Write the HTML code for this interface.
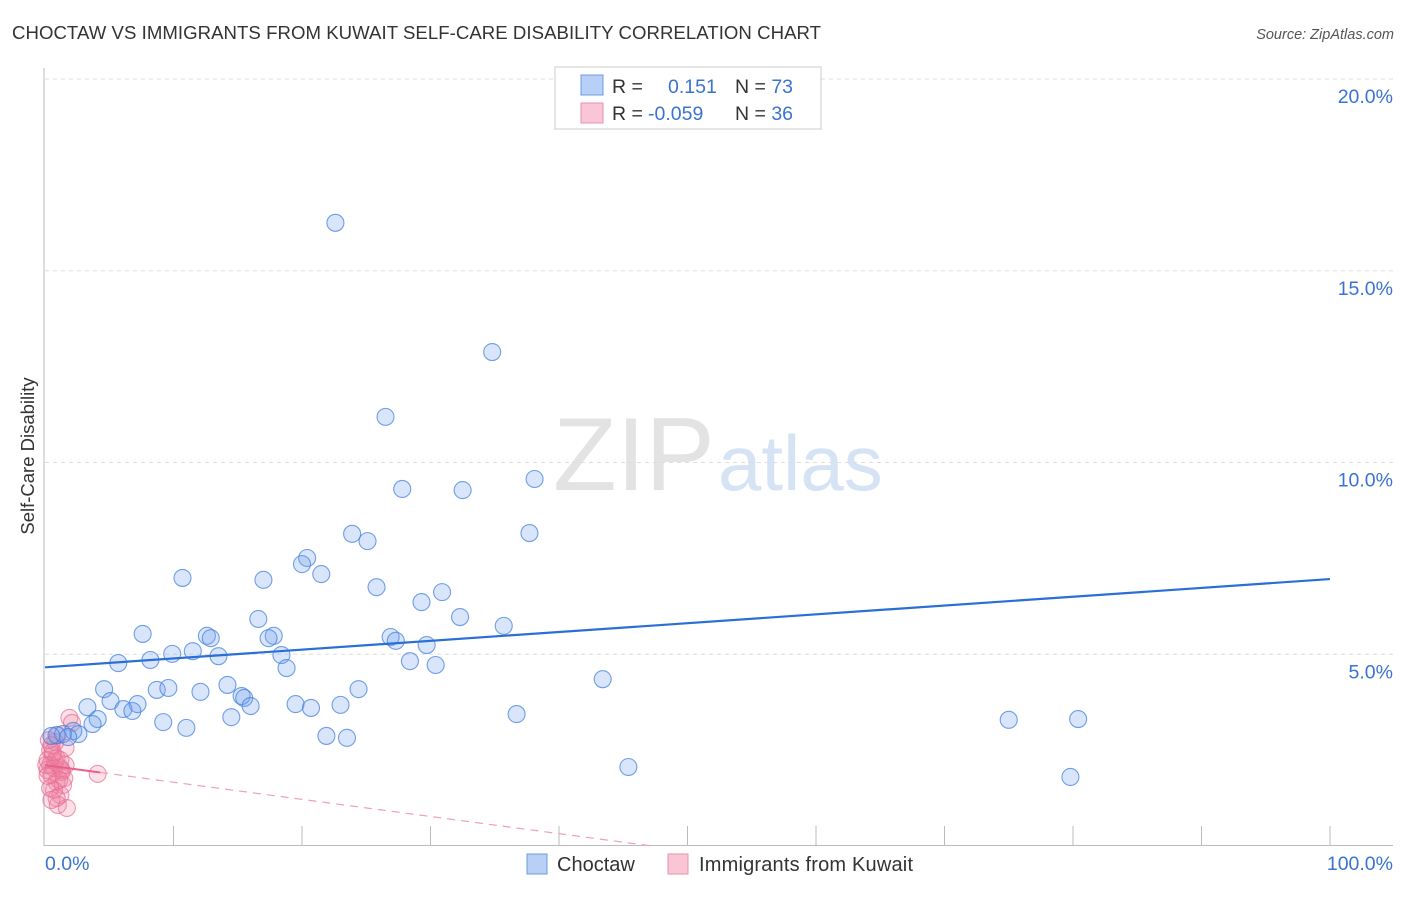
<!DOCTYPE html>
<html><head><meta charset="utf-8"><style>
body{margin:0;background:#fff;font-family:"Liberation Sans",sans-serif}
svg text{font-family:"Liberation Sans",sans-serif}
</style></head><body>
<svg id="c" width="1406" height="892" xmlns="http://www.w3.org/2000/svg">
<text x="12" y="39" font-size="18.6" fill="#333" textLength="809">CHOCTAW VS IMMIGRANTS FROM KUWAIT SELF-CARE DISABILITY CORRELATION CHART</text>
<text x="1394" y="39" font-size="14.5" fill="#555" text-anchor="end" font-style="italic">Source: ZipAtlas.com</text>
<text transform="translate(34,456) rotate(-90)" font-size="18.5" fill="#333" text-anchor="middle">Self-Care Disability</text>
<g>
<text x="553" y="490" font-size="104" fill="#e3e3e3" font-family="Liberation Serif">ZIP</text>
<text x="718" y="490" font-size="78" fill="#d5e3f5">atlas</text>
</g>
<g id="grid"></g><g id="axes"></g><g id="marks"></g>
<g>
<rect x="555" y="67" width="266" height="62" fill="#fff" stroke="#ccc"/>
<rect x="581" y="75" width="22" height="20" fill="#b8d0f5" stroke="#6a9be0"/>
<rect x="581" y="103" width="22" height="20" fill="#f9c6d5" stroke="#ea8faf"/>
<text x="612" y="93" font-size="19.5" fill="#333">R =<tspan x="668" fill="#3a73d0">0.151</tspan><tspan x="735" fill="#333">N = </tspan><tspan fill="#3a73d0">73</tspan></text>
<text x="612" y="120" font-size="19.5" fill="#333">R =<tspan x="648" fill="#3a73d0">-0.059</tspan><tspan x="735" fill="#333">N = </tspan><tspan fill="#3a73d0">36</tspan></text>
</g>
<g>
<rect x="527" y="854" width="20" height="20" fill="#b8d0f5" stroke="#6a9be0"/>
<text x="557" y="871" font-size="20" fill="#333">Choctaw</text>
<rect x="668" y="854" width="20" height="20" fill="#f9c6d5" stroke="#ea8faf"/>
<text x="699" y="871" font-size="20" fill="#333" textLength="214">Immigrants from Kuwait</text>
</g>
</svg>
<script>
const blueX=[22.6,34.8,26.5,27.8,32.5,38.1,37.7,23.9,25.1,20.4,20.0,21.5,10.7,17.0,25.8,30.9,29.3,32.3,16.6,35.7,7.6,12.6,12.9,17.8,17.4,26.9,27.3,29.7,11.5,9.9,13.5,18.4,8.2,5.7,28.4,18.8,30.4,43.4,4.6,8.7,9.6,14.2,24.4,12.1,15.3,15.5,5.1,7.2,3.3,6.1,6.8,16.0,19.5,20.7,23.0,14.5,36.7,4.1,3.7,9.2,11.0,75.0,80.4,21.9,23.5,2.2,2.6,0.9,1.4,0.5,45.4,79.8,1.8];
const blueY=[16.25,12.88,11.19,9.31,9.28,9.57,8.16,8.14,7.95,7.51,7.35,7.09,6.99,6.94,6.75,6.62,6.36,5.97,5.92,5.74,5.53,5.48,5.42,5.48,5.42,5.45,5.35,5.24,5.08,5.01,4.95,4.98,4.85,4.77,4.82,4.64,4.72,4.35,4.09,4.07,4.12,4.20,4.09,4.02,3.91,3.86,3.78,3.70,3.62,3.57,3.52,3.65,3.70,3.60,3.68,3.36,3.44,3.31,3.18,3.23,3.08,3.29,3.31,2.87,2.82,3.00,2.92,2.89,2.92,2.87,2.06,1.80,2.84];
const pinkX=[1.9,2.1,1.0,0.8,1.6,0.4,0.6,0.2,0.4,0.8,1.2,0.2,0.5,1.3,1.5,0.9,0.7,1.2,1.0,1.7,1.3,4.1,0.3,0.5,0.9,0.1,0.7,1.1,1.4,0.4,0.9,0.6,1.2,0.2,1.6,0.5];
const pinkY=[3.34,3.21,2.89,2.71,2.56,2.50,2.37,2.24,2.11,2.19,2.03,1.98,1.85,1.93,1.77,1.67,1.46,1.33,1.07,0.99,1.98,1.88,2.76,2.63,2.29,2.11,2.03,1.72,1.59,1.51,1.25,2.45,2.24,1.83,2.11,1.20];
const yTicks=[5,10,15,20];
const yTickLabels=["5.0%","10.0%","15.0%","20.0%"];
const blueTrend=[4.66,6.96];
const pinkTrend=[2.11,-0.0447];
const NS="http://www.w3.org/2000/svg";
const X=v=>45+v*12.85, Y=v=>846-v*38.35;
function mk(t,a,p){const e=document.createElementNS(NS,t);for(const k in a)e.setAttribute(k,a[k]);document.getElementById(p).appendChild(e);return e;}
yTicks.forEach((t,i)=>{
 const g=mk('line',{x1:45,x2:1393,y1:Y(t),y2:Y(t),stroke:'#ddd','stroke-dasharray':'4,4'},'grid');
 
 
 const l=mk('text',{x:1393,y:Y(t)+24,'font-size':19.5,fill:'#3a73d0','text-anchor':'end'},'axes');
 l.textContent=yTickLabels[i];
 
 
});
let a=mk('line',{x1:44,x2:44,y1:68,y2:846,stroke:'#bbb'},'axes');


a=mk('line',{x1:44,x2:1393,y1:845.5,y2:845.5,stroke:'#bbb'},'axes');


for(let i=1;i<=10;i++){const t=mk('line',{x1:X(i*10),x2:X(i*10),y1:826,y2:845,stroke:'#bbb'},'axes');
 
 }
let xl=mk('text',{x:45,y:870,'font-size':19.5,fill:'#3a73d0'},'axes');xl.textContent='0.0%';


xl=mk('text',{x:1393,y:870,'font-size':19.5,fill:'#3a73d0','text-anchor':'end'},'axes');xl.textContent='100.0%';


pinkX.forEach((x,i)=>{const c=mk('circle',{cx:X(x),cy:Y(pinkY[i]),r:8.5,fill:'rgba(240,130,165,0.25)',stroke:'rgba(232,110,150,0.7)','stroke-width':1.1},'marks');
 
 });
blueX.forEach((x,i)=>{const c=mk('circle',{cx:X(x),cy:Y(blueY[i]),r:8.5,fill:'rgba(110,160,235,0.27)',stroke:'rgba(70,130,220,0.75)','stroke-width':1.1},'marks');
 
 });
let tl=mk('line',{x1:X(0),y1:Y(blueTrend[0]),x2:X(100),y2:Y(blueTrend[1]),stroke:'#2a6fd6','stroke-width':2.2},'marks');


const pe=-pinkTrend[0]/pinkTrend[1];
tl=mk('line',{x1:X(0),y1:Y(pinkTrend[0]),x2:X(4.3),y2:Y(pinkTrend[0]+pinkTrend[1]*4.3),stroke:'#e8608c','stroke-width':2},'marks');


tl=mk('line',{x1:X(4.3),y1:Y(pinkTrend[0]+pinkTrend[1]*4.3),x2:X(pe),y2:Y(0),stroke:'#eea0b8','stroke-width':1.2,'stroke-dasharray':'8,6'},'marks');


</script>
</body></html>
